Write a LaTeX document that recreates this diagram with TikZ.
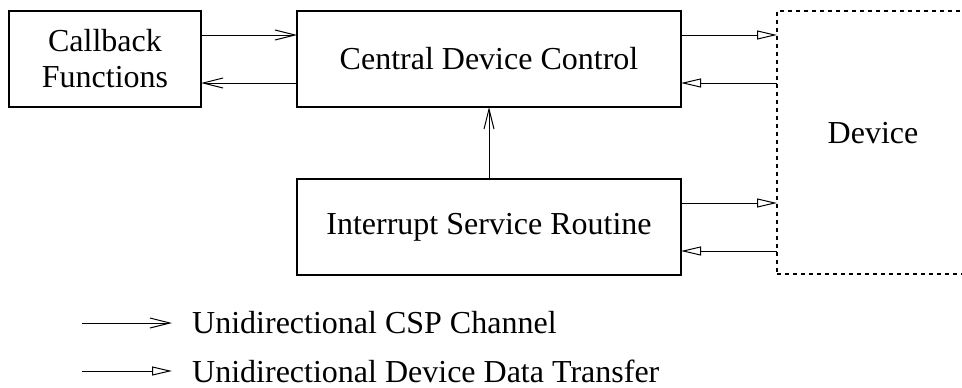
\documentclass[tikz,border=0pt]{standalone}
\usepackage{fontspec}
\setmainfont{Liberation Serif}
\usetikzlibrary{positioning, arrows.meta}

\tikzset{
  box/.style={draw, line width=1.1pt, inner sep=0pt, outer sep=0pt, align=center},
  devbox/.style={draw, line width=1.1pt, dash pattern=on 4pt off 4pt, inner sep=0pt, outer sep=0pt},
  csp/.style={line width=1pt, -{Straight Barb[length=20pt, width=10pt]}},
  dat/.style={line width=1pt, -{Triangle[open, length=20pt, width=9pt]}}
}

\begin{document}
\begin{tikzpicture}[x=1pt, y=-1pt, font=\fontsize{32}{36}\selectfont]
  \useasboundingbox (0,0) rectangle (962,388);
  \clip (0,0) rectangle (962,388);

  \node[box, minimum width=192pt, minimum height=96pt, anchor=north west] at (9,11)     (cb)  {Callback\\Functions};
  \node[box, minimum width=384pt, minimum height=96pt, right=96pt of cb]     (ctrl)  {Central Device Control};
  \node[box, minimum width=384pt, minimum height=96pt, below=72pt of ctrl]     (isr)  {Interrupt Service Routine};
  \node[devbox, minimum width=192pt, minimum height=263pt, anchor=north west] at (777,11)     (dev)  {};
  \node at ([yshift=9pt]dev.center)     (devtxt)  {Device};

  \draw[csp] ([yshift=24pt]cb.east) --  ([yshift=24pt]cb.east -| ctrl.west);
  \draw[csp] ([yshift=-24pt]ctrl.west) --  ([yshift=-24pt]ctrl.west -| cb.east);
  \draw[csp] (isr.north) --  (ctrl.south);
  \draw[dat] ([yshift=24pt]ctrl.east) --  ([yshift=24pt]ctrl.east -| dev.west);
  \draw[dat] ([yshift=-24pt]ctrl.east -| dev.west) --  ([yshift=-24pt]ctrl.east);
  \draw[dat] ([yshift=24pt]isr.east) --  ([yshift=24pt]isr.east -| dev.west);
  \draw[dat] ([yshift=-24pt]isr.east -| dev.west) --  ([yshift=-24pt]isr.east);

  % legend
  \coordinate (l1) at (82,323);
  \coordinate (l2) at (82,371);
  \node[anchor=west, inner sep=0pt] at (192,323)     (legcsp)  {Unidirectional CSP Channel};
  \node[anchor=west, inner sep=0pt] at (192,371)     (legdat)  {Unidirectional Device Data Transfer};
  \draw[csp] (l1) --  ([xshift=-20pt]legcsp.west);
  \draw[dat] (l2) --  ([xshift=-20pt]legdat.west);
\end{tikzpicture}
\end{document}
